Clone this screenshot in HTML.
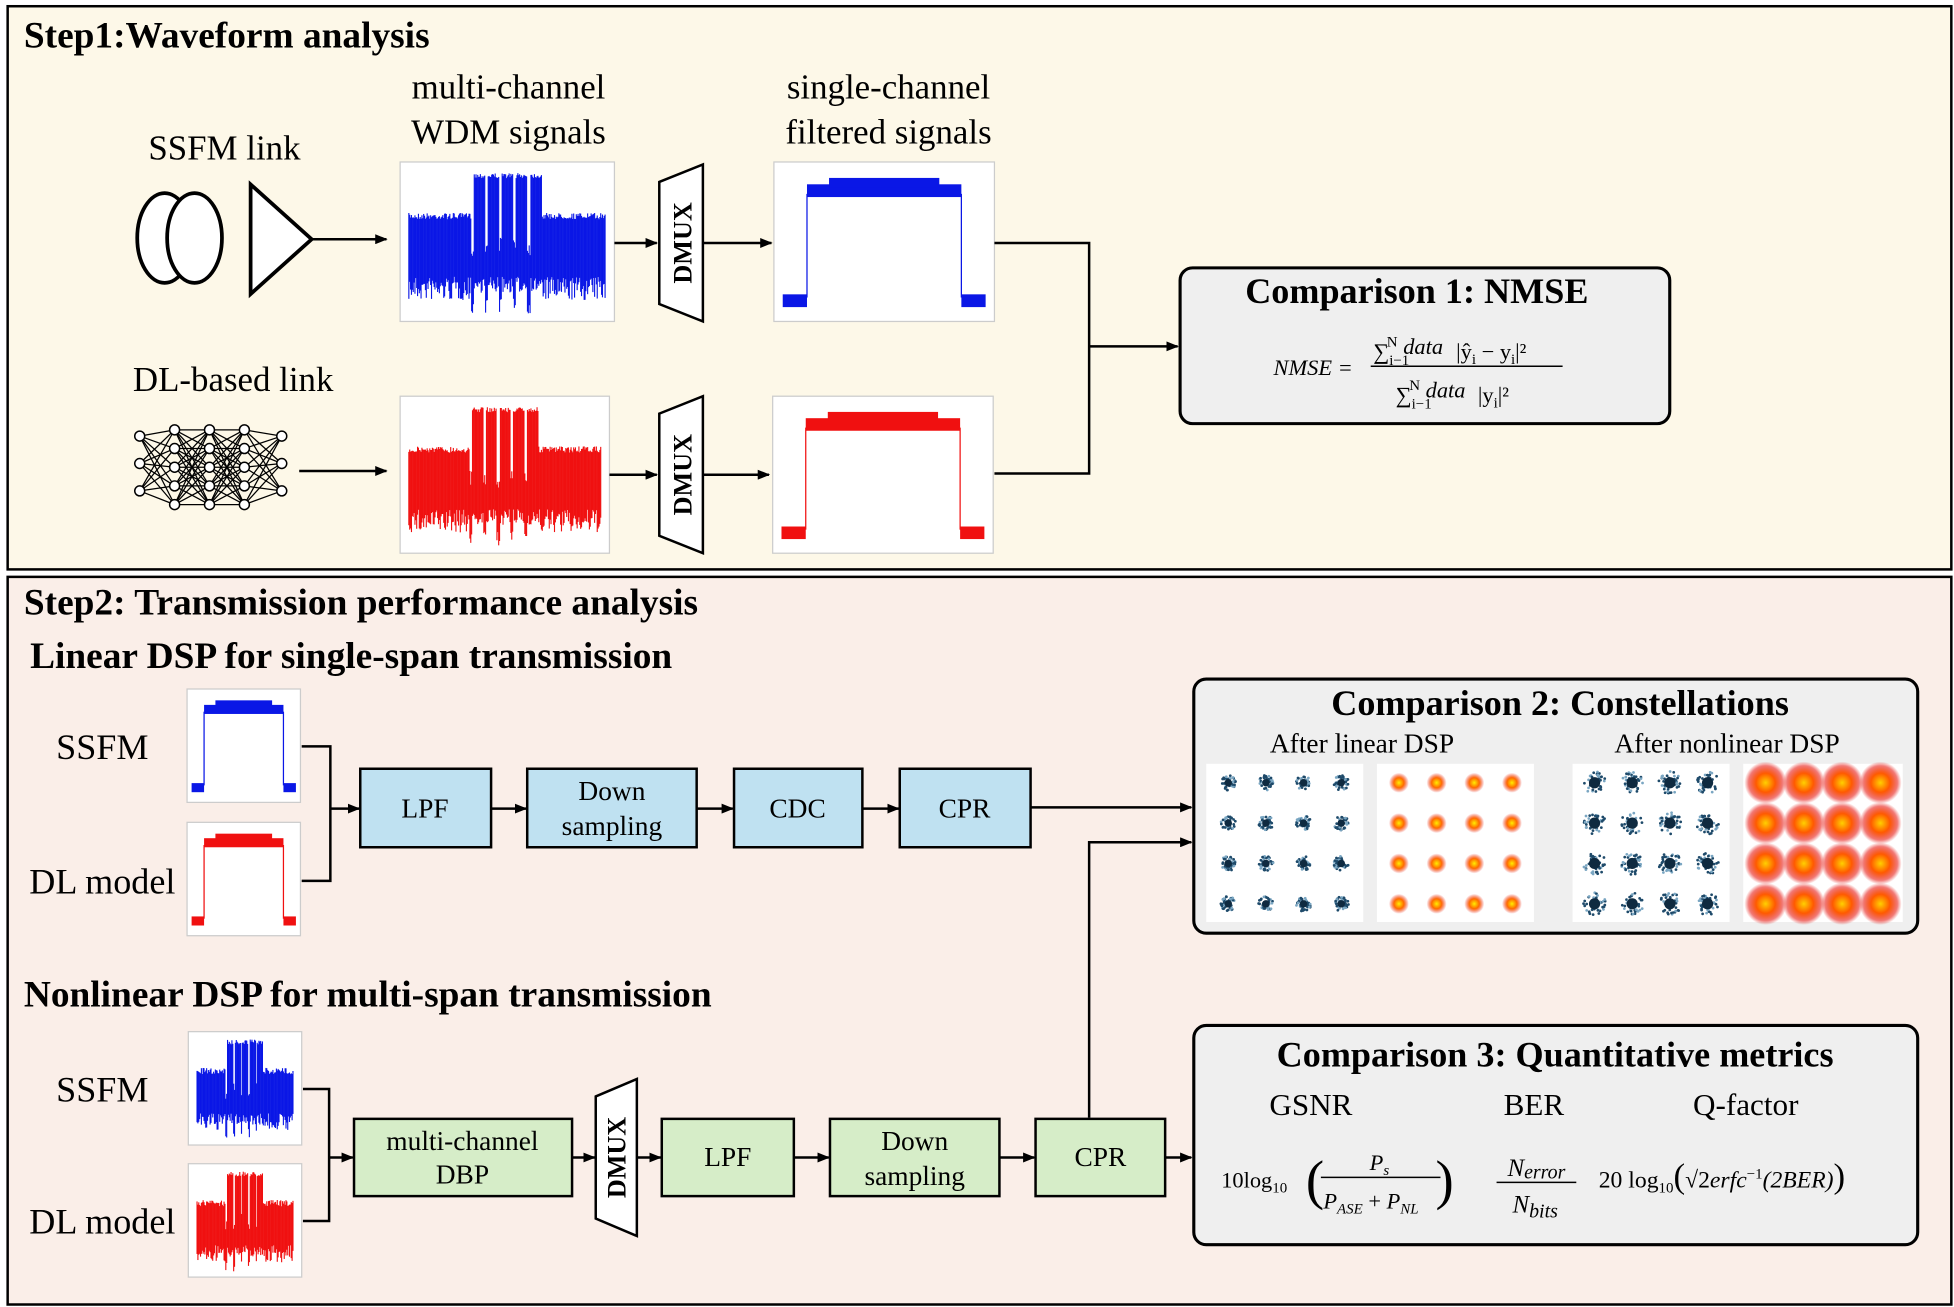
<!DOCTYPE html>
<html><head><meta charset="utf-8"><style>
html,body{margin:0;padding:0;background:#fff}
svg{display:block}
text{font-family:"Liberation Serif","Times New Roman","DejaVu Serif",serif;fill:#000}
.b{font-weight:bold}
.i{font-style:italic}
</style></head><body>
<svg id="s" width="1954" height="1307" viewBox="0 0 1568 1049" xmlns="http://www.w3.org/2000/svg" font-family="Liberation Serif, serif">
<defs>
<marker id="a" markerWidth="10" markerHeight="8" refX="9" refY="4" orient="auto" markerUnits="userSpaceOnUse"><path d="M0,0 L10,4 L0,8 z" fill="#000"/></marker>
<radialGradient id="rg"><stop offset="0" stop-color="#ffee00"/><stop offset="0.5" stop-color="#ff6a00"/><stop offset="1" stop-color="#e8201a" stop-opacity="0"/></radialGradient>
<radialGradient id="rg2"><stop offset="0" stop-color="#ffd000"/><stop offset="0.45" stop-color="#ff5a00"/><stop offset="0.8" stop-color="#e8201a" stop-opacity="0.6"/><stop offset="1" stop-color="#e8201a" stop-opacity="0"/></radialGradient>
</defs>
<rect x="6" y="5" width="1560" height="452" fill="#fdf8e8" stroke="#000" stroke-width="2"/>
<rect x="6" y="463" width="1560" height="584" fill="#faeee8" stroke="#000" stroke-width="2"/>
<text x="19" y="38" font-size="30" class="b">Step1:Waveform analysis</text>
<text x="180" y="128" font-size="28" text-anchor="middle">SSFM link</text>
<text x="408" y="79" font-size="28" text-anchor="middle">multi-channel</text>
<text x="408" y="115" font-size="28" text-anchor="middle">WDM signals</text>
<text x="713" y="79" font-size="28" text-anchor="middle">single-channel</text>
<text x="713" y="115" font-size="28" text-anchor="middle">filtered signals</text>
<text x="187" y="314" font-size="28" text-anchor="middle">DL-based link</text>
<ellipse cx="132" cy="191" rx="22" ry="36" fill="#fff" stroke="#000" stroke-width="3"/>
<ellipse cx="156" cy="191" rx="22" ry="36" fill="#fff" stroke="#000" stroke-width="3"/>
<polygon points="201,148 250,192 201,236" fill="#fff" stroke="#000" stroke-width="3"/>
<line x1="250" y1="192" x2="310" y2="192" stroke="#000" stroke-width="2" marker-end="url(#a)"/>
<g id="nn"></g>
<line x1="240" y1="378" x2="310" y2="378" stroke="#000" stroke-width="2" marker-end="url(#a)"/>
<g id="plots"></g>
<g stroke="#000" stroke-width="2" fill="none">
<line x1="493" y1="195" x2="527" y2="195" marker-end="url(#a)"/>
<line x1="564" y1="195" x2="619" y2="195" marker-end="url(#a)"/>
<line x1="489" y1="381" x2="527" y2="381" marker-end="url(#a)"/>
<line x1="564" y1="381" x2="617" y2="381" marker-end="url(#a)"/>
<polyline points="798,195 874,195 874,380 798,380"/>
<line x1="874" y1="278" x2="945" y2="278" marker-end="url(#a)"/>
</g>
<g fill="#fff" stroke="#000" stroke-width="2">
<polygon points="529,146 564,132 564,258 529,244"/>
<polygon points="529,332 564,318 564,444 529,430"/>
<polygon points="478,880 511,866 511,992 478,978"/>
</g>
<text transform="translate(555,195) rotate(-90)" font-size="21" class="b" text-anchor="middle">DMUX</text>
<text transform="translate(555,381) rotate(-90)" font-size="21" class="b" text-anchor="middle">DMUX</text>
<text transform="translate(502,929) rotate(-90)" font-size="21" class="b" text-anchor="middle">DMUX</text>
<rect x="947" y="215" width="393" height="125" rx="10" fill="#efefef" stroke="#000" stroke-width="2.5"/>
<text x="1137" y="243" font-size="29" class="b" text-anchor="middle">Comparison 1: NMSE</text>
<text x="1022" y="301" font-size="18" class="i">NMSE =</text>
<text x="1102" y="288" font-size="18"><tspan>∑</tspan><tspan font-size="12" dy="5">i−1</tspan><tspan font-size="12" dy="-15" dx="-18">N</tspan><tspan class="i" dy="6"> data</tspan><tspan dy="4" dx="6"> |ŷ</tspan><tspan font-size="12" dy="4">i</tspan><tspan dy="-4"> − y</tspan><tspan font-size="12" dy="4">i</tspan><tspan dy="-4">|²</tspan></text>
<line x1="1100" y1="294" x2="1254" y2="294" stroke="#000" stroke-width="1.2"/>
<text x="1120" y="323" font-size="18"><tspan>∑</tspan><tspan font-size="12" dy="5">i−1</tspan><tspan font-size="12" dy="-15" dx="-18">N</tspan><tspan class="i" dy="6"> data</tspan><tspan dy="4" dx="10">|y</tspan><tspan font-size="12" dy="4">i</tspan><tspan dy="-4">|²</tspan></text>

<text x="19" y="493" font-size="30" class="b">Step2: Transmission performance analysis</text>
<text x="24" y="536" font-size="30" class="b">Linear DSP for single-span transmission</text>
<text x="19" y="808" font-size="30" class="b">Nonlinear DSP for multi-span transmission</text>
<text x="82" y="609" font-size="29" text-anchor="middle">SSFM</text>
<text x="82" y="717" font-size="29" text-anchor="middle">DL model</text>
<text x="82" y="884" font-size="29" text-anchor="middle">SSFM</text>
<text x="82" y="990" font-size="29" text-anchor="middle">DL model</text>
<g stroke="#000" stroke-width="2" fill="none">
<polyline points="242,599 265,599 265,707 242,707"/>
<line x1="265" y1="649" x2="288" y2="649" marker-end="url(#a)"/>
<line x1="394" y1="649" x2="422" y2="649" marker-end="url(#a)"/>
<line x1="559" y1="649" x2="588" y2="649" marker-end="url(#a)"/>
<line x1="692" y1="649" x2="721" y2="649" marker-end="url(#a)"/>
<line x1="827" y1="648" x2="956" y2="648" marker-end="url(#a)"/>
<polyline points="243,874 264,874 264,980 243,980"/>
<line x1="264" y1="929" x2="283" y2="929" marker-end="url(#a)"/>
<line x1="459" y1="929" x2="477" y2="929" marker-end="url(#a)"/>
<line x1="511" y1="929" x2="530" y2="929" marker-end="url(#a)"/>
<line x1="637" y1="929" x2="665" y2="929" marker-end="url(#a)"/>
<line x1="802" y1="929" x2="830" y2="929" marker-end="url(#a)"/>
<line x1="935" y1="929" x2="956" y2="929" marker-end="url(#a)"/>
<polyline points="874,897 874,676 956,676" marker-end="url(#a)"/>
</g>
<g stroke="#000" stroke-width="2">
<rect x="289" y="617" width="105" height="63" fill="#bfe1f1"/>
<rect x="423" y="617" width="136" height="63" fill="#bfe1f1"/>
<rect x="589" y="617" width="103" height="63" fill="#bfe1f1"/>
<rect x="722" y="617" width="105" height="63" fill="#bfe1f1"/>
<rect x="284" y="898" width="175" height="62" fill="#d6edc8"/>
<rect x="531" y="898" width="106" height="62" fill="#d6edc8"/>
<rect x="666" y="898" width="136" height="62" fill="#d6edc8"/>
<rect x="831" y="898" width="104" height="62" fill="#d6edc8"/>
</g>
<g font-size="22" text-anchor="middle">
<text x="341" y="656">LPF</text>
<text x="491" y="642">Down</text><text x="491" y="670">sampling</text>
<text x="640" y="656">CDC</text>
<text x="774" y="656">CPR</text>
<text x="371" y="923">multi-channel</text><text x="371" y="950">DBP</text>
<text x="584" y="936">LPF</text>
<text x="734" y="923">Down</text><text x="734" y="951">sampling</text>
<text x="883" y="936">CPR</text>
</g>
<rect x="958" y="545" width="581" height="204" rx="10" fill="#efefef" stroke="#000" stroke-width="2.5"/>
<text x="1252" y="574" font-size="29" class="b" text-anchor="middle">Comparison 2: Constellations</text>
<text x="1093" y="604" font-size="22" text-anchor="middle">After linear DSP</text>
<text x="1386" y="604" font-size="22" text-anchor="middle">After nonlinear DSP</text>
<g id="const"></g>
<rect x="958" y="823" width="581" height="176" rx="10" fill="#efefef" stroke="#000" stroke-width="2.5"/>
<text x="1248" y="856" font-size="29" class="b" text-anchor="middle">Comparison 3: Quantitative metrics</text>
<text x="1052" y="895" font-size="25" text-anchor="middle">GSNR</text>
<text x="1231" y="895" font-size="25" text-anchor="middle">BER</text>
<text x="1401" y="895" font-size="25" text-anchor="middle">Q-factor</text>
<text x="980" y="953" font-size="18">10log<tspan font-size="12" dy="4">10</tspan></text>
<text x="1048" y="962" font-size="44" font-weight="100">(</text>
<text x="1152" y="962" font-size="44" font-weight="100">)</text>
<text x="1107" y="939" font-size="18" class="i" text-anchor="middle">P<tspan font-size="12" dy="4">s</tspan></text>
<line x1="1060" y1="945" x2="1156" y2="945" stroke="#000" stroke-width="1.2"/>
<text x="1062" y="970" font-size="18" class="i">P<tspan font-size="12" dy="4">ASE</tspan><tspan dy="-4" font-style="normal"> + </tspan>P<tspan font-size="12" dy="4">NL</tspan></text>
<text x="1233" y="944" font-size="20" class="i" text-anchor="middle">N<tspan font-size="16" dy="2">error</tspan></text>
<line x1="1201" y1="949" x2="1265" y2="949" stroke="#000" stroke-width="1.2"/>
<text x="1232" y="973" font-size="20" class="i" text-anchor="middle">N<tspan font-size="16" dy="4">bits</tspan></text>
<text x="1283" y="953" font-size="19">20 log<tspan font-size="12" dy="4">10</tspan><tspan dy="-4" font-size="28">(</tspan><tspan>√2</tspan><tspan class="i">erfc</tspan><tspan font-size="12" dy="-7">−1</tspan><tspan dy="7" class="i">(2BER)</tspan><tspan font-size="28">)</tspan></text>
</svg>
<script>
var NS="http://www.w3.org/2000/svg";
function el(p,t,a){var e=document.createElementNS(NS,t);for(var k in a)e.setAttribute(k,a[k]);p.appendChild(e);return e;}
var seed=7;function r(){seed=(seed*16807)%2147483647;return seed/2147483647;}
var P=document.getElementById('plots');
function frame(x,y,w,h){el(P,'rect',{x:x,y:y,width:w,height:h,fill:'#fff',stroke:'#ccc','stroke-width':1});}
function wdm(x,y,w,h,col){
 frame(x,y,w,h);
 var x0=x+7,x1=x+w-7,mid=y+h*0.55;
 var cx0=x+w*0.33,cx1=x+w*0.66;
 for(var px=x0;px<x1;px+=0.7){
  var top,bot;
  if(px>cx0&&px<cx1){
   var f=(px-cx0)/(cx1-cx0)*5,fr=f-Math.floor(f);
   if(fr<0.2){top=mid-10+r()*15;bot=y+h*0.85+r()*h*0.1;}
   else{top=y+h*0.07+r()*4;bot=y+h*0.72+r()*h*0.1;}
  }else{top=y+h*0.32+r()*5;bot=y+h*0.72+r()*h*0.15;}
  el(P,'line',{x1:px,y1:top,x2:px,y2:bot,stroke:col,'stroke-width':0.9});
 }
}
function filt(x,y,w,h,col){
 frame(x,y,w,h);
 var a=x+w*0.15,b=x+w*0.85;
 el(P,'rect',{x:a,y:y+h*0.14,width:b-a,height:h*0.08,fill:col});
 el(P,'rect',{x:a+w*0.1,y:y+h*0.1,width:b-a-w*0.2,height:h*0.06,fill:col});
 el(P,'line',{x1:a,y1:y+h*0.2,x2:a,y2:y+h*0.85,stroke:col,'stroke-width':1});
 el(P,'line',{x1:b,y1:y+h*0.2,x2:b,y2:y+h*0.85,stroke:col,'stroke-width':1});
 el(P,'rect',{x:x+w*0.04,y:y+h*0.83,width:w*0.11,height:h*0.08,fill:col});
 el(P,'rect',{x:x+w*0.85,y:y+h*0.83,width:w*0.11,height:h*0.08,fill:col});
}
wdm(321,130,172,128,'#0a17e6');
filt(621,130,177,128,'#0a17e6');
wdm(321,318,168,126,'#f01010');
filt(620,318,177,126,'#f01010');
filt(150,553,91,91,'#0a17e6');
filt(150,660,91,91,'#f01010');
wdm(151,828,91,91,'#0a17e6');
wdm(151,934,91,91,'#f01010');
var N=document.getElementById('nn');
var cols=[112,140,168,196,226],rows=[[350,372,394],[345,360,375,390,405],[345,360,375,390,405],[345,360,375,390,405],[350,372,394]];
for(var i=0;i<4;i++)for(var j=0;j<rows[i].length;j++)for(var k=0;k<rows[i+1].length;k++)el(N,'line',{x1:cols[i],y1:rows[i][j],x2:cols[i+1],y2:rows[i+1][k],stroke:'#000','stroke-width':1});
for(var i=0;i<5;i++)for(var j=0;j<rows[i].length;j++)el(N,'circle',{cx:cols[i],cy:rows[i][j],r:4,fill:'#fff',stroke:'#000','stroke-width':1.2});
var C=document.getElementById('const');
function cons(x,y,w,h,type,spread){
 el(C,'rect',{x:x,y:y,width:w,height:h,fill:'#fff'});
 for(var i=0;i<4;i++)for(var j=0;j<4;j++){
  var cx=x+w*(0.14+0.24*i),cy=y+h*(0.12+0.255*j);
  if(type=='b'){
   for(var n=0;n<40;n++){var ang=r()*6.28,rad=Math.sqrt(r())*spread/2;el(C,'circle',{cx:cx+Math.cos(ang)*rad,cy:cy+Math.sin(ang)*rad,r:1.1,fill:n%3?'#1e4a6a':'#7aa6c2'});}
   el(C,'circle',{cx:cx,cy:cy,r:spread*0.25,fill:'#0f2a40'});
  }else if(type=='r'){
   el(C,'circle',{cx:cx,cy:cy,r:spread,fill:'url(#rg)'});
  }else{
   el(C,'circle',{cx:cx,cy:cy,r:spread,fill:'url(#rg2)'});
  }
 }
}
cons(968,613,126,127,'b',12);
cons(1105,613,126,127,'r',8);
cons(1262,613,126,127,'b',18);
cons(1399,613,128,127,'r2',17);
</script>
</body></html>
